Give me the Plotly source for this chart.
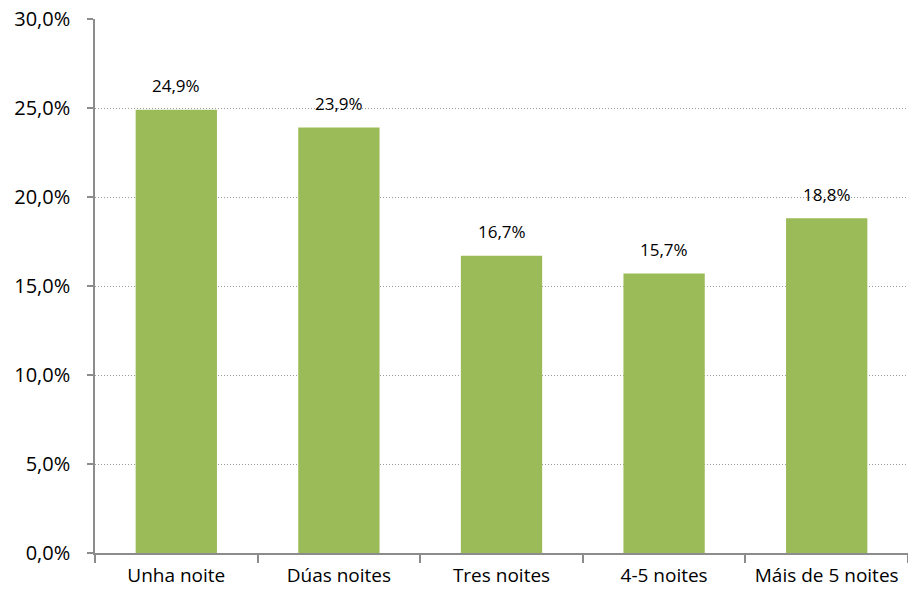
import plotly.graph_objects as go

categories = ["Unha noite", "Dúas noites", "Tres noites", "4-5 noites", "Máis de 5 noites"]
values = [24.9, 23.9, 16.7, 15.7, 18.8]
labels = ["24,9%", "23,9%", "16,7%", "15,7%", "18,8%"]
tick_vals = [0, 5, 10, 15, 20, 25, 30]
tick_text = ["0,0%", "5,0%", "10,0%", "15,0%", "20,0%", "25,0%", "30,0%"]

font_family = "Open Sans, Noto Sans, sans-serif"

fig = go.Figure()
fig.add_trace(go.Bar(x=categories, y=values, marker=dict(color="#9BBB59", line=dict(width=0)),
                     hoverinfo="skip"))

for c, v, t in zip(categories, values, labels):
    fig.add_annotation(x=c, y=v, text=t, showarrow=False, yshift=24,
                       font=dict(family=font_family, size=17, color="#000000"))

fig.update_layout(
    width=908, height=595,
    margin=dict(l=95, r=0, t=19, b=42),
    paper_bgcolor="white", plot_bgcolor="white",
    bargap=0.5, showlegend=False,
    font=dict(family=font_family, color="#000000"),
)
fig.update_xaxes(
    automargin=False,
    showline=True, linecolor="#8C8C8C", linewidth=1.5,
    ticks="outside", tickson="boundaries", ticklen=8, tickcolor="#8C8C8C", tickwidth=1.5,
    ticklabelstandoff=4,
    tickfont=dict(size=19, family=font_family, color="#000000"),
    showgrid=False,
)
fig.update_yaxes(
    automargin=False,
    range=[0, 30], tickvals=tick_vals, ticktext=tick_text,
    showline=True, linecolor="#8C8C8C", linewidth=1.5,
    ticks="outside", ticklen=6, tickcolor="#8C8C8C", tickwidth=1.5,
    ticklabelstandoff=13,
    tickfont=dict(size=20, family=font_family, color="#000000"),
    showgrid=True, gridcolor="#9A9A9A", griddash="1px,2px", gridwidth=1,
    zeroline=False,
)

fig.write_html("out.html", config={"displayModeBar": False},
               post_script="document.body.style.margin='0';")
